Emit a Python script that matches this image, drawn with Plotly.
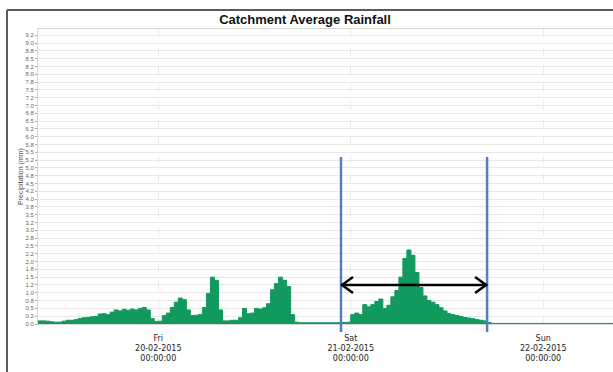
import pandas as pd
import plotly.graph_objects as go

# --- data -------------------------------------------------------------
start_time = "2015-02-19 09:00"
step = "30min"
rain_mm = [
    0.10, 0.10, 0.09, 0.07, 0.06, 0.06, 0.09, 0.12, 0.12, 0.14,
    0.18, 0.20, 0.21, 0.23, 0.24, 0.32, 0.33, 0.30, 0.38, 0.45,
    0.42, 0.47, 0.44, 0.48, 0.45, 0.50, 0.53, 0.45, 0.17, 0.08,
    0.09, 0.27, 0.35, 0.53, 0.70, 0.83, 0.78, 0.45, 0.27, 0.28,
    0.30, 0.53, 0.98, 1.50, 1.40, 0.45, 0.10, 0.10, 0.12, 0.12,
    0.20, 0.50, 0.33, 0.35, 0.50, 0.48, 0.52, 0.65, 1.10, 1.30,
    1.50, 1.40, 1.20, 0.30, 0.06, 0.04, 0.04, 0.04, 0.04, 0.04,
    0.04, 0.04, 0.04, 0.04, 0.04, 0.05, 0.05, 0.06, 0.30, 0.35,
    0.30, 0.62, 0.55, 0.62, 0.72, 0.80, 0.50, 0.60, 0.87, 1.07,
    1.50, 2.10, 2.37, 2.20, 1.65, 1.17, 0.90, 0.75, 0.70, 0.62,
    0.52, 0.42, 0.33, 0.30, 0.27, 0.24, 0.21, 0.19, 0.17, 0.14,
    0.12, 0.10, 0.05, 0.02, 0.02, 0.02, 0.02, 0.02, 0.02, 0.02,
    0.02, 0.02, 0.02, 0.02, 0.02, 0.02, 0.02, 0.02, 0.02, 0.02,
    0.02, 0.02, 0.02, 0.02, 0.02, 0.02, 0.02, 0.02, 0.02, 0.02,
    0.02, 0.02, 0.02, 0.02, 0.02,
]
times = pd.date_range(start_time, periods=len(rain_mm), freq=step)

x_tick_vals = ["2015-02-20 00:00", "2015-02-21 00:00", "2015-02-22 00:00"]
x_tick_text = [
    "Fri<br>20-02-2015<br>00:00:00",
    "Sat<br>21-02-2015<br>00:00:00",
    "Sun<br>22-02-2015<br>00:00:00",
]
y_tick_vals = [i * 0.25 for i in range(38)]
y_tick_text = [
    "0.0", "0.2", "0.5", "0.8", "1.0", "1.2", "1.5", "1.8", "2.0", "2.2",
    "2.5", "2.8", "3.0", "3.2", "3.5", "3.8", "4.0", "4.2", "4.5", "4.8",
    "5.0", "5.2", "5.5", "5.8", "6.0", "6.2", "6.5", "6.8", "7.0", "7.2",
    "7.5", "7.8", "8.0", "8.2", "8.5", "8.8", "9.0", "9.2",
]
window_start = "2015-02-20 22:47"
window_end = "2015-02-21 17:00"
arrow_level = 1.25

# --- figure -----------------------------------------------------------
W, H = 613, 372
L, R, T, B = 38, 0, 29, 48
pw, ph = W - L - R, H - T - B

fig = go.Figure()
fig.add_trace(go.Scatter(
    x=times, y=rain_mm, mode="lines", line_shape="hv",
    line=dict(color="#11995e", width=1), fill="tozeroy",
    fillcolor="#11995e", hoverinfo="skip", showlegend=False,
))


def px_x(p):
    return (p - L) / pw


def px_y(p):
    return (H - B - p) / ph


shapes = [
    # outer frame
    dict(type="line", xref="paper", yref="paper", x0=px_x(7), x1=px_x(7),
         y0=px_y(10), y1=px_y(372), line=dict(color="#5a5a5a", width=2)),
    dict(type="line", xref="paper", yref="paper", x0=px_x(7), x1=px_x(613),
         y0=px_y(10), y1=px_y(10), line=dict(color="#5a5a5a", width=2)),
    # selection window lines
    dict(type="line", xref="x", yref="paper", x0=window_start, x1=window_start,
         y0=px_y(332), y1=px_y(157), line=dict(color="#4f7fc4", width=2.5)),
    dict(type="line", xref="x", yref="paper", x0=window_end, x1=window_end,
         y0=px_y(332), y1=px_y(157), line=dict(color="#4f7fc4", width=2.5)),
    # double arrow shaft
    dict(type="line", xref="x", yref="y", x0=window_start, x1=window_end,
         y0=arrow_level, y1=arrow_level, line=dict(color="black", width=2.5)),
    # open chevron heads
    dict(type="path", xref="x", yref="y", xsizemode="pixel", ysizemode="pixel",
         xanchor=window_start, yanchor=arrow_level, path="M 12,8 L 1,0 L 12,-8",
         line=dict(color="black", width=2.5)),
    dict(type="path", xref="x", yref="y", xsizemode="pixel", ysizemode="pixel",
         xanchor=window_end, yanchor=arrow_level, path="M -12,8 L -1,0 L -12,-8",
         line=dict(color="black", width=2.5)),
]

fig.update_layout(
    width=W, height=H,
    margin=dict(l=L, r=R, t=T, b=B),
    paper_bgcolor="white", plot_bgcolor="white",
    font=dict(family="Liberation Sans, Arial, sans-serif", color="#222"),
    title=dict(text="<b>Catchment Average Rainfall</b>", x=305 / W, xref="container",
               xanchor="center", y=1 - 19 / H, yref="container", yanchor="middle",
               font=dict(size=13, color="#111")),
    shapes=shapes,
    xaxis=dict(
        type="date", range=["2015-02-19 09:00", "2015-02-22 08:42"],
        tickmode="array", tickvals=x_tick_vals, ticktext=x_tick_text,
        tickfont=dict(size=8, family="DejaVu Sans, Verdana, sans-serif", color="#222"),
        showgrid=True, gridcolor="#ececec", griddash="dash", gridwidth=1,
        showline=True, linecolor="#d6d6d6", mirror=True,
        ticks="", ticklabelstandoff=6, zeroline=False,
    ),
    yaxis=dict(
        range=[0, 9.45], tickmode="array", tickvals=y_tick_vals, ticktext=y_tick_text,
        tickfont=dict(size=6, color="#666"),
        ticks="outside", ticklen=2, tickcolor="#aaa",
        showgrid=True, gridcolor="#e8e8e8", gridwidth=1,
        showline=True, linecolor="#d6d6d6", mirror=True, zeroline=False,
        title=dict(text="Precipitation (mm)", font=dict(size=7, color="#444"), standoff=1),
    ),
)

fig.write_html("out.html")
